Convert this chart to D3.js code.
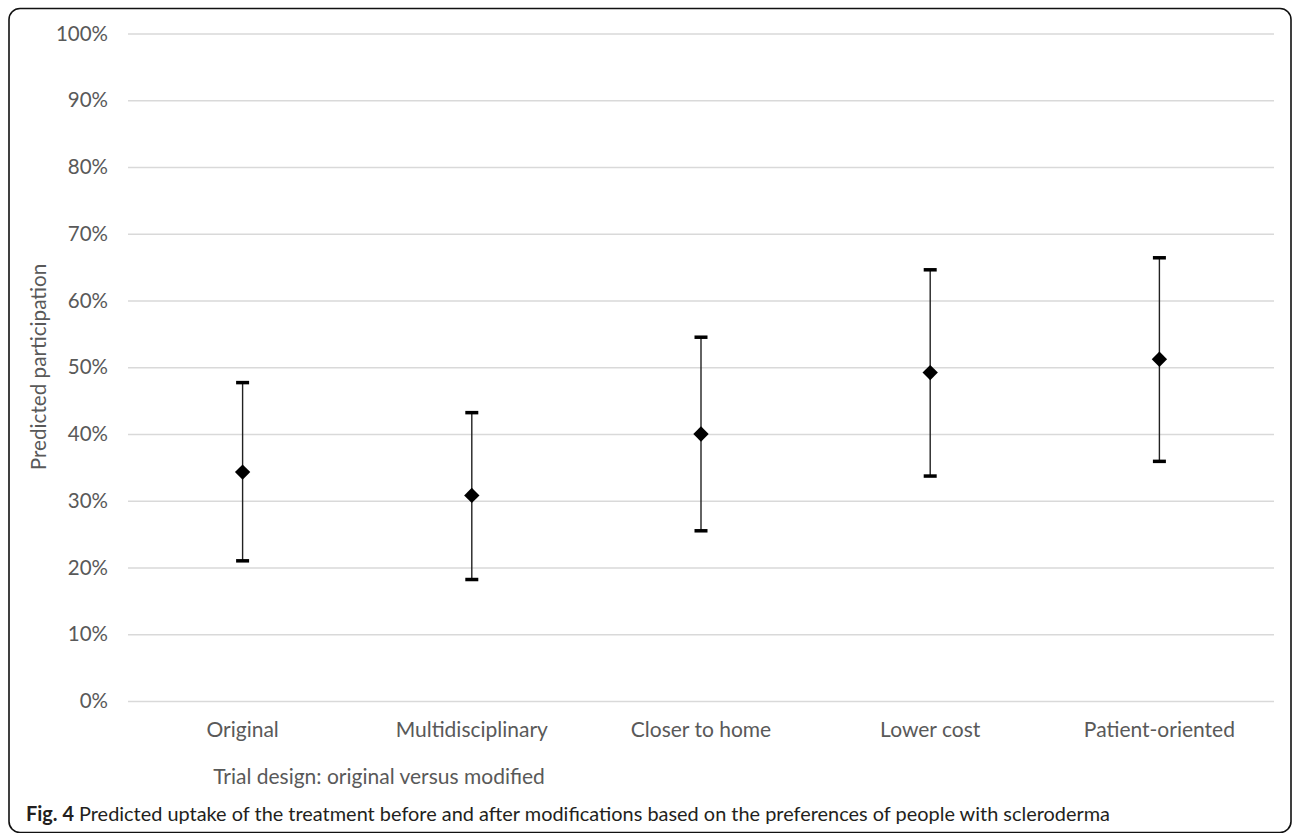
<!DOCTYPE html>
<html>
  <head>
    <meta charset="utf-8" />
    <title>Predicted participation</title>
    <style>
      body { margin: 0; background: #fff; }
      text { font-family: Lato, "Open Sans", sans-serif; }
    </style>
  </head>
  <body>
  <div id="container"></div>
  <script src="https://cdn.jsdelivr.net/npm/d3@7"></script>
  <script type="text/javascript">

    // trial designs and predicted participation (point estimate, lower and upper limits)
    var designs = ['Original', 'Multidisciplinary', 'Closer to home', 'Lower cost', 'Patient-oriented'];
    var estimate = [0.343, 0.308, 0.400, 0.492, 0.512];
    var lower = [0.210, 0.182, 0.255, 0.337, 0.359];
    var upper = [0.477, 0.432, 0.545, 0.646, 0.664];
    var yTicks = [0, 0.1, 0.2, 0.3, 0.4, 0.5, 0.6, 0.7, 0.8, 0.9, 1];

    var width = 1292;
    var height = 833;

    var svg = d3.select('#container').append('svg').attr('width', width).attr('height', height);

    // rounded frame round the figure
    svg.append('rect')
      .attr('x', 9).attr('y', 8.5)
      .attr('width', 1282).attr('height', 824)
      .attr('rx', 11).attr('ry', 11)
      .attr('fill', 'none').attr('stroke', '#111').attr('stroke-width', 1.6);

    // plot area
    var pLeft = 128, pRight = 1274, pTop = 33.5, pBottom = 701;

    var x = d3.scaleBand().domain(designs).range([pLeft, pRight]);
    var y = d3.scaleLinear().domain([0, 1]).range([pBottom, pTop]);

    // y axis with gridlines
    var yAxis = svg.append('g')
      .attr('transform', 'translate(' + pLeft + ',0)')
      .call(d3.axisLeft(y).tickValues(yTicks).tickFormat(d3.format('.0%'))
        .tickSizeInner(-(pRight - pLeft)).tickSizeOuter(0).tickPadding(20));
    yAxis.select('.domain').remove();
    yAxis.selectAll('line').attr('stroke', '#d9d9d9').attr('stroke-width', 1.3);
    yAxis.selectAll('text').attr('fill', '#595959').style('font-size', '20.5px');

    // x axis labels
    var xAxis = svg.append('g')
      .attr('transform', 'translate(0,' + pBottom + ')')
      .call(d3.axisBottom(x).tickSize(0).tickPadding(21));
    xAxis.select('.domain').remove();
    xAxis.selectAll('text').attr('fill', '#595959').style('font-size', '21px');

    // axis titles
    svg.append('text')
      .attr('transform', 'translate(46,367) rotate(-90)')
      .attr('text-anchor', 'middle')
      .attr('fill', '#595959').style('font-size', '20.7px')
      .text('Predicted participation');

    svg.append('text')
      .attr('x', 379).attr('y', 784)
      .attr('text-anchor', 'middle')
      .attr('fill', '#595959').style('font-size', '21px')
      .text('Trial design: original versus modified');

    var data = designs.map(function(d, i){
      return {design: d, est: estimate[i], lo: lower[i], hi: upper[i]};
    });
    var cx = function(d){ return x(d.design) + x.bandwidth() / 2; };

    var bars = svg.append('g').selectAll('g').data(data).enter().append('g');

    // error bar stems
    bars.append('line')
      .attr('x1', cx).attr('x2', cx)
      .attr('y1', function(d){ return y(d.lo); })
      .attr('y2', function(d){ return y(d.hi); })
      .attr('stroke', '#222').attr('stroke-width', 1.4);

    // caps
    ['lo', 'hi'].forEach(function(k){
      bars.append('line')
        .attr('x1', function(d){ return cx(d) - 6.5; })
        .attr('x2', function(d){ return cx(d) + 6.5; })
        .attr('y1', function(d){ return y(d[k]); })
        .attr('y2', function(d){ return y(d[k]); })
        .attr('stroke', '#000').attr('stroke-width', 3.5);
    });

    // diamond markers
    bars.append('path')
      .attr('d', d3.symbol().type(d3.symbolDiamond2).size(150))
      .attr('transform', function(d){ return 'translate(' + cx(d) + ',' + y(d.est) + ')'; })
      .attr('fill', '#000');

    // caption
    var cap = svg.append('text')
      .attr('x', 26).attr('y', 821)
      .attr('fill', '#231f20').style('font-size', '20px')
      .attr('textLength', 1084).attr('lengthAdjust', 'spacingAndGlyphs');
    cap.append('tspan').attr('font-weight', 'bold').text('Fig. 4');
    cap.append('tspan').text(' Predicted uptake of the treatment before and after modifications based on the preferences of people with scleroderma');

  </script>
  </body>
</html>
